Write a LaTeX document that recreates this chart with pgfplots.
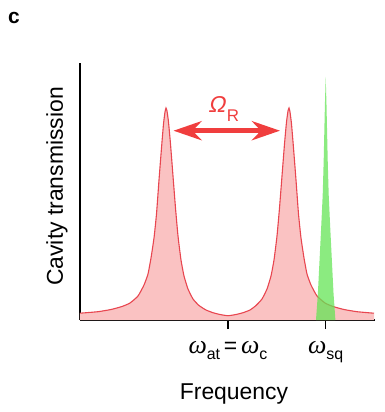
\documentclass[border=0pt]{standalone}
\usepackage{fontspec}
\setmainfont{Liberation Sans}
\newfontfamily\omfont{Liberation Serif}
\newfontfamily\slantsans{Liberation Sans}[FakeSlant=0.2]
\usepackage{pgfplots}
\pgfplotsset{compat=1.18}
\usetikzlibrary{arrows.meta}

\definecolor{redline}{RGB}{232,70,80}
\definecolor{pinkfill}{RGB}{250,194,194}
\definecolor{greenfill}{RGB}{100,228,85}
\definecolor{arrowred}{RGB}{240,62,62}

% italic omega with a sans subscript
\newcommand{\om}[1]{{\omfont\itshape\fontsize{26}{28}\selectfont ω}\raisebox{-0.3em}{\fontsize{16}{16}\selectfont #1}}

\begin{document}
\begin{tikzpicture}
\begin{axis}[
  scale only axis, width=295bp, height=257bp,
  xmin=80, xmax=375, ymin=0, ymax=257,
  clip=false,
  axis x line*=bottom, axis y line*=left,
  axis line style={line width=1.5bp, black, -},
  xtick={228,325.7}, ytick=\empty,
  tick align=outside, major tick length=9bp,
  tick style={line width=1.5bp, black},
  xticklabels={{\om{at}\,=\,\om{c}}, {\om{sq}}},
  xticklabel style={font=\fontsize{23}{27}\selectfont, anchor=base, yshift=-24bp},
  xlabel={Frequency},
  xlabel style={font=\fontsize{23}{27}\selectfont, at={(axis cs:234,0)}, anchor=base, yshift=-79bp},
  ylabel={Cavity transmission},
  ylabel style={font=\fontsize{23}{27}\selectfont, at={(axis cs:57,133.5)}, anchor=center},
]
% polariton doublet: filled area under the transmission curve
\addplot[draw=none, fill=pinkfill] coordinates {
(80,6.8) (98,8.3) (111,10.5) (122,13.5) (130,17) (138,24) (144,35) (148,46)
(151,62) (154,82) (156.5,106) (159,140) (161.5,172) (163.5,196) (165,208)
(166,212) (167,209) (168.5,198) (170.5,176) (173,144) (175.5,112) (178,84)
(181,60) (184,44) (188,31) (193,21) (199,14.5) (206,10) (213,7.3) (220,5.5)
(228,4.3)
(236,5.5) (243,7.3) (250,10) (256,14.5) (262,21) (267,31) (271,44) (274,60)
(277,84) (279.5,112) (282,144) (284.5,176) (286.5,198) (288,209) (289,212)
(290,208) (291.5,196) (293.5,172) (296,140) (298.5,106) (301,82) (304,62)
(307,46) (311,35) (317,24) (325,17) (333,13.5) (344,10.5) (357,8.3) (374,6.8)
} \closedcycle;
% transmission curve outline
\addplot[redline, line width=1.1bp, smooth, tension=0.3] coordinates {
(80,6.8) (98,8.3) (111,10.5) (122,13.5) (130,17) (138,24) (144,35) (148,46)
(151,62) (154,82) (156.5,106) (159,140) (161.5,172) (163.5,196) (165,208)
(166,212) (167,209) (168.5,198) (170.5,176) (173,144) (175.5,112) (178,84)
(181,60) (184,44) (188,31) (193,21) (199,14.5) (206,10) (213,7.3) (220,5.5)
(228,4.3)
(236,5.5) (243,7.3) (250,10) (256,14.5) (262,21) (267,31) (271,44) (274,60)
(277,84) (279.5,112) (282,144) (284.5,176) (286.5,198) (288,209) (289,212)
(290,208) (291.5,196) (293.5,172) (296,140) (298.5,106) (301,82) (304,62)
(307,46) (311,35) (317,24) (325,17) (333,13.5) (344,10.5) (357,8.3) (374,6.8)
};
% squeezed-light spectrum, drawn translucent over the doublet
\addplot[draw=none, fill=greenfill, fill opacity=0.75] coordinates {
(316,0) (317.9,27) (321.2,93) (322.7,125) (323.7,160) (324.9,215) (325.7,243)
(326.5,215) (327.7,160) (328.7,125) (330.2,93) (333.5,27) (335.4,0)
} \closedcycle;
% Rabi splitting
\draw[arrowred, line width=5bp,
  {Stealth[length=28bp,width=19bp,inset=9bp]}-{Stealth[length=28bp,width=19bp,inset=9bp]}]
  (axis cs:173.5,189.3) -- (axis cs:280,189.3);
\node[anchor=base west, inner sep=0, text=arrowred] at (axis cs:208,207)
  {\fontsize{23}{27}\selectfont\slantsans Ω\kern1.5bp\raisebox{-9bp}{\normalfont\fontsize{17}{17}\selectfont R}};
% panel letter
\node[anchor=base west, inner sep=0] at (axis cs:8,296)
  {\fontsize{21}{21}\selectfont\bfseries c};
\end{axis}
\pgfresetboundingbox
\path (-80bp,-92bp) rectangle (305bp,320bp);
\end{tikzpicture}
\end{document}
